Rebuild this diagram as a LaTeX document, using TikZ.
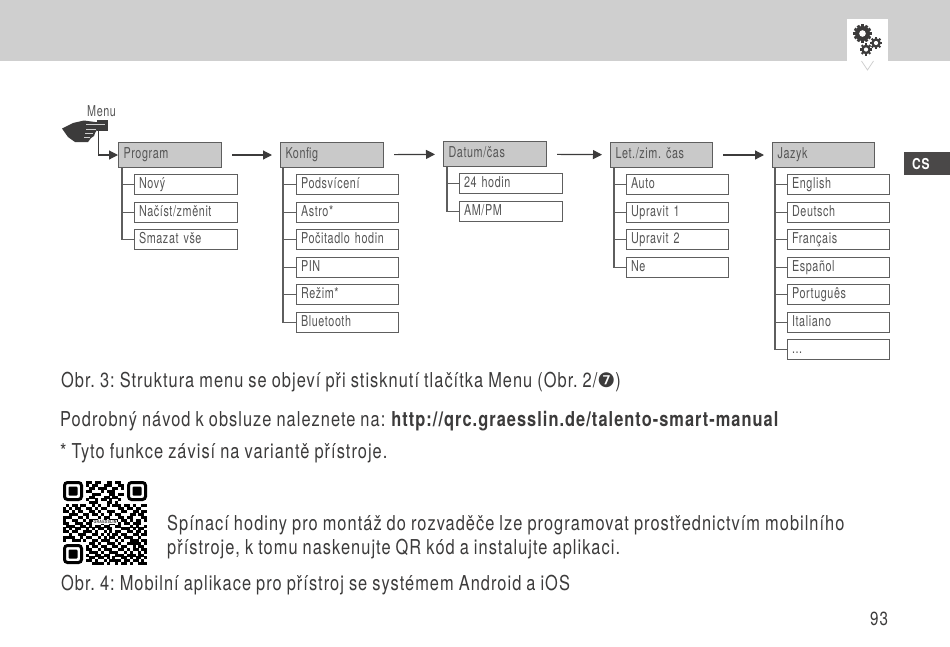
\documentclass[tikz,border=0pt]{standalone}
\usepackage{fontspec}
\usetikzlibrary{arrows.meta}
\setmainfont[FakeStretch=0.8,LetterSpace=5,WordSpace=0.9]{TeX Gyre Heros}
\newfontfamily\smallfont[FakeStretch=0.72,LetterSpace=4,WordSpace=0.9]{TeX Gyre Heros}
\newfontfamily\dingfont{DejaVu Sans}
\frenchspacing
\definecolor{band}{HTML}{CFCFCF}
\definecolor{headfill}{HTML}{C9C9C9}
\definecolor{edgegray}{HTML}{5E5E5E}
\definecolor{ink}{HTML}{3C3B3B}
\definecolor{soft}{HTML}{555555}
\definecolor{darkbox}{HTML}{4A4848}
\newcount\qrx
\def\qrp#1{\ifx#1\relax\else\if#11\fill (63+2.9*\the\qrx,481+2.9*\qrrowno) rectangle ++(3,3);\fi\advance\qrx by 1 \expandafter\qrp\fi}
\newcommand\qrline[2]{\def\qrrowno{#1}\qrx=0 \qrp#2\relax}
\begin{document}
\begin{tikzpicture}[x=1pt,y=-1pt,
  headbox/.style={draw=edgegray,fill=headfill,line width=1pt,anchor=north west,minimum width=103pt,minimum height=25pt,text width=93pt,text height=10.5pt,text depth=3pt,inner sep=0pt,inner xsep=5pt,align=left,font=\smallfont\fontsize{15}{15}\selectfont,text=soft},
  subbox/.style={draw=edgegray,fill=white,line width=1pt,anchor=north west,minimum width=103pt,minimum height=20pt,text width=94pt,text height=10.5pt,text depth=3pt,inner sep=0pt,inner xsep=4.5pt,align=left,font=\smallfont\fontsize{15}{15}\selectfont,text=soft},
  narrowhead/.style={minimum width=102pt,text width=92pt},
  narrowsub/.style={minimum width=102pt,text width=93pt},
  trunk/.style={draw=edgegray,line width=1.3pt},
  nextarrow/.style={draw=ink,line width=1.2pt,-{Triangle[length=9pt,width=9pt]},shorten <=10pt,shorten >=8pt},
  para/.style={anchor=base west,inner sep=0pt,text=ink,font=\fontsize{20.5}{20.5}\selectfont}]
\useasboundingbox (0,0) rectangle (950,646);
\fill[white] (0,0) rectangle (950,646);
\fill[band] (0,0) rectangle (950,61);
% tab with pointer
\fill[white] (847,19) rectangle (888,61);
\draw[fill=white,draw=band,line width=.8pt] (861.5,61) -- (867.5,70) -- (873.5,61);
% gears
\foreach \cx/\cy/\r/\tw/\th/\h/\n in {862.5/33.5/7.6/2.8/1.6/3.3/12,876/43/4.8/2.1/1.3/2.1/8,866/49.5/4.8/2.1/1.3/2.1/8}{
  \fill[ink] (\cx,\cy) circle (\r);
  \foreach \a in {1,...,\n}{
    \fill[ink,rotate around={360/\n*\a:(\cx,\cy)}] (\cx-\tw/2,\cy-\r-\th) rectangle (\cx+\tw/2,\cy-\r+.5);
  }
  \fill[white] (\cx,\cy) circle (\h);
}
% language tab
\node[fill=darkbox,anchor=north west,minimum width=46pt,minimum height=23pt,inner sep=0pt] (langtab) at (904,152) {};
\node[anchor=base west,inner sep=0pt,text=white,font=\fontsize{15}{15}\selectfont\bfseries] (langtxt) at (912,169) {CS};
% menu hand
\node[anchor=base west,inner sep=0pt,text=soft,font=\smallfont\fontsize{15}{15}\selectfont] (menulbl) at (87,116) {Menu};
\fill[ink] (97,120) rectangle (108,131);
\coordinate (btn) at (98.5,131);
\fill[ink] (62,128.5) -- (73,123) -- (84,120.5) -- (95,122) -- (105,123) -- (105,127) -- (97,127) -- (97,130) -- (95,133) -- (94,136) -- (91,138) -- (88,142) -- (75,142) -- (68,137) -- cycle;
\draw[band,line width=.8pt] (86,124.5) -- (105,124.5) (86,129) -- (96,129) (85,133) -- (93,133) (84,137) -- (90,137);
% headers
\node[headbox] (h1) at (118,142) {Program};
\node[headbox] (h2) at (280,142) {Konfig};
\node[headbox] (h3) at (443,141) {Datum/čas};
\node[headbox,narrowhead] (h4) at (610,142) {Let./zim. čas};
\node[headbox,narrowhead] (h5) at (772,142) {Jazyk};
\draw[nextarrow] (h1) -- (h2);
\draw[nextarrow] (h2) -- (h3);
\draw[nextarrow] (h3) -- (h4);
\draw[nextarrow] (h4) -- (h5);
\draw[draw=ink,line width=1.2pt,-{Triangle[length=9pt,width=9pt]}] (btn) |- (h1.west);
% children
\node[subbox] (a1) at (134,174) {Nový};
\node[subbox] (a2) at (134,202) {Načíst/změnit};
\node[subbox] (a3) at (134,229) {Smazat vše};
\node[subbox,narrowsub] (b1) at (296,174) {Podsvícení};
\node[subbox,narrowsub] (b2) at (296,202) {Astro*};
\node[subbox,narrowsub] (b3) at (296,229) {Počitadlo hodin};
\node[subbox,narrowsub] (b4) at (296,257) {PIN};
\node[subbox,narrowsub] (b5) at (296,284) {Režim*};
\node[subbox,narrowsub] (b6) at (296,312) {Bluetooth};
\node[subbox] (c1) at (459,173) {24 hodin};
\node[subbox] (c2) at (459,201) {AM/PM};
\node[subbox,narrowsub] (d1) at (626,174) {Auto};
\node[subbox,narrowsub] (d2) at (626,202) {Upravit 1};
\node[subbox,narrowsub] (d3) at (626,229) {Upravit 2};
\node[subbox,narrowsub] (d4) at (626,257) {Ne};
\node[subbox,narrowsub] (e1) at (787,174) {English};
\node[subbox,narrowsub] (e2) at (787,202) {Deutsch};
\node[subbox,narrowsub] (e3) at (787,229) {Français};
\node[subbox,narrowsub] (e4) at (787,257) {Español};
\node[subbox,narrowsub] (e5) at (787,284) {Português};
\node[subbox,narrowsub] (e6) at (787,312) {Italiano};
\node[subbox,narrowsub] (e7) at (787,339) {...};
\foreach \hd/\off/\kids in {h1/4/{a1,a2,a3},h2/3/{b1,b2,b3,b4,b5,b6},h3/4/{c1,c2},h4/4/{d1,d2,d3,d4},h5/3/{e1,e2,e3,e4,e5,e6,e7}}{
  \foreach \k in \kids {
    \draw[trunk] ([xshift=\off pt]\hd.south west) |- (\k.west);
  }
}
% paragraphs
\node[para] (p1) at (61,387) {Obr. 3: Struktura menu se objeví při stisknutí tlačítka Menu (Obr. 2/{\dingfont\fontsize{20}{20}\selectfont ❼})};
\node[para] (p2) at (60,426) {Podrobný návod k obsluze naleznete na: \textbf{http://qrc.graesslin.de/talento-smart-manual}};
\node[para] (p3) at (60,458) {* Tyto funkce závisí na variantě přístroje.};
\node[para] (p4) at (167,530) {Spínací hodiny pro montáž do rozvaděče lze programovat prostřednictvím mobilního};
\node[para] (p5) at (167,554) {přístroje, k tomu naskenujte QR kód a instalujte aplikaci.};
\node[para] (p6) at (61,590) {Obr. 4: Mobilní aplikace pro přístroj se systémem Android a iOS};
\node[para,font=\fontsize{19}{19}\selectfont] (pg) at (870,625) {93};
% QR
\begin{scope}[black]
\foreach \fx/\fy in {63/481,127/481,63/544}{
  \draw[line width=3pt,rounded corners=3pt] (\fx+1.5,\fy+1.5) rectangle (\fx+18.5,\fy+18.5);
  \fill[rounded corners=1pt] (\fx+5.5,\fy+5.5) rectangle (\fx+14.5,\fy+14.5);
}
\qrline{0}{00000000110110011011000000000}
\qrline{1}{00000000101100111001100000000}
\qrline{2}{00000000011011100110100000000}
\qrline{3}{00000000110001011100000000000}
\qrline{4}{00000000001110001101100000000}
\qrline{5}{00000000011000110110000000000}
\qrline{6}{00000000100101101001000000000}
\qrline{7}{00000000011100011010000000000}
\qrline{8}{01011011001010010111011010011}
\qrline{9}{10101100110101100001101101100}
\qrline{10}{11010110011010011100110011011}
\qrline{11}{00111001101101001011000110110}
\qrline{12}{11100110100010110001101100011}
\qrline{13}{10011001011100101110110101101}
\qrline{14}{11001110110001001101011011100}
\qrline{15}{01110011010110110011000101001}
\qrline{16}{10101100101011011000111010110}
\qrline{17}{11011001110100101011001101101}
\qrline{18}{00100111001101010110110011011}
\qrline{19}{11110010110010101101011100100}
\qrline{20}{10011101001101110010100111011}
\qrline{21}{00000000011010011101001111101}
\qrline{22}{00000000101101100110110010110}
\qrline{23}{00000000110010111001101011011}
\qrline{24}{00000000011101001110010100101}
\qrline{25}{00000000100110110011101110110}
\qrline{26}{00000000011011010100110101101}
\qrline{27}{00000000110100101111011011010}
\qrline{28}{00000000001111010010110100111}
\end{scope}
\node[fill=white,inner xsep=1pt,inner ysep=.5pt,text=ink,font=\fontsize{4.5}{4.5}\selectfont\bfseries] (qrlabel) at (105,522) {GRAESSLIN};
\end{tikzpicture}
\end{document}
